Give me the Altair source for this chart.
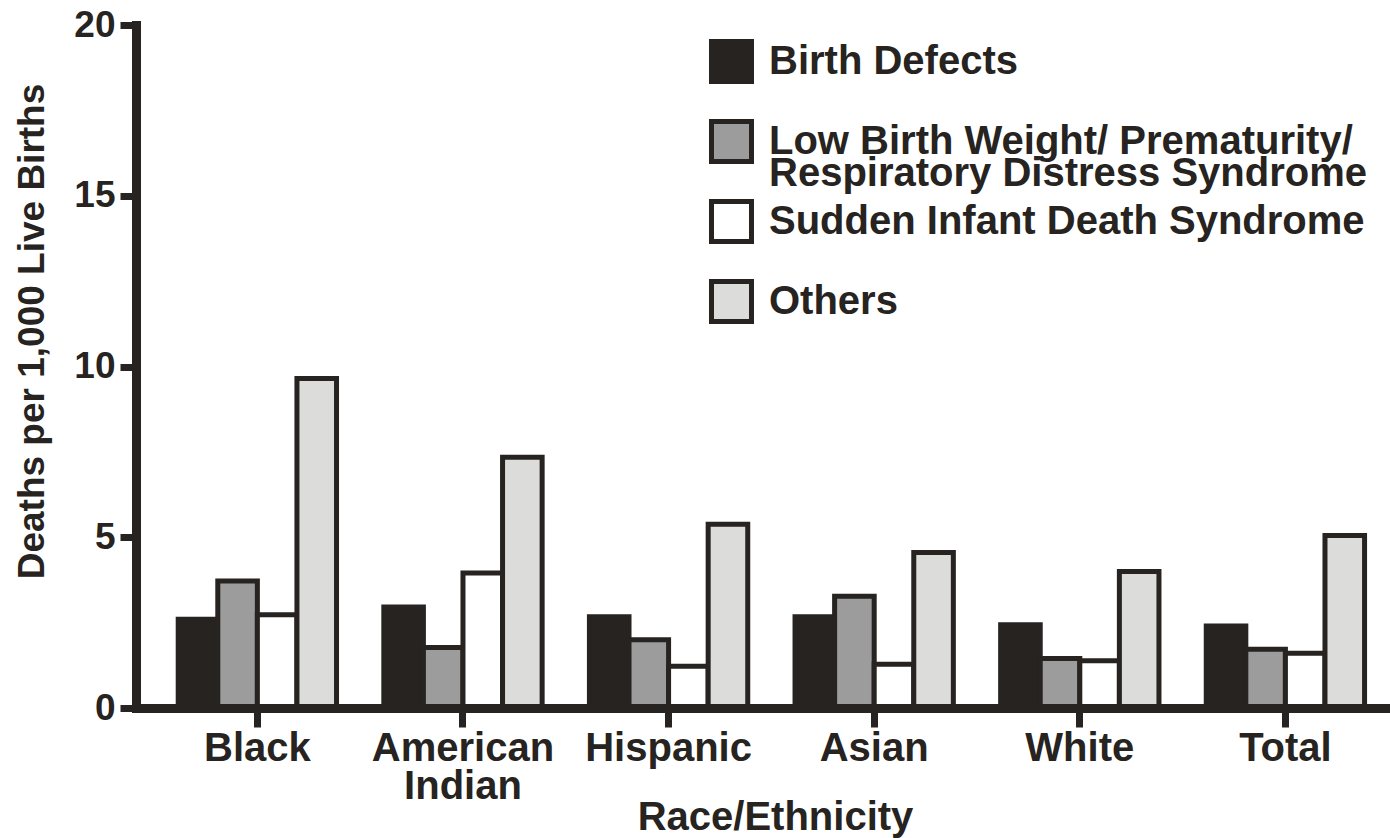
import altair as alt
import pandas as pd

categories = ["Black", "American Indian", "Hispanic", "Asian", "White", "Total"]
causes = [
    "Birth Defects",
    "Low Birth Weight/ Prematurity/ Respiratory Distress Syndrome",
    "Sudden Infant Death Syndrome",
    "Others",
]
birth_defects = [2.60, 2.96, 2.67, 2.67, 2.44, 2.40]
low_birth_weight = [3.72, 1.77, 2.00, 3.27, 1.45, 1.72]
sids = [2.73, 3.95, 1.22, 1.28, 1.38, 1.60]
others = [9.65, 7.34, 5.38, 4.55, 4.00, 5.05]
fills = ["#262320", "#9c9c9c", "#ffffff", "#dcdcda"]
y_ticks = [0, 5, 10, 15, 20]

series = [birth_defects, low_birth_weight, sids, others]
rows = []
for cause, vals in zip(causes, series):
    for cat, v in zip(categories, vals):
        rows.append({"race": cat, "cause": cause, "value": v})
df = pd.DataFrame(rows)

DARK = "#262320"
FONT = "Liberation Sans"

x_label_expr = "datum.label == 'American Indian' ? ['American', 'Indian'] : datum.label"
legend_label_expr = (
    "datum.label == 'Low Birth Weight/ Prematurity/ Respiratory Distress Syndrome' ? "
    "['Low Birth Weight/ Prematurity/', 'Respiratory Distress Syndrome'] : datum.label"
)

chart = (
    alt.Chart(df)
    .mark_bar(stroke=DARK, strokeWidth=5, strokeJoin="miter")
    .encode(
        x=alt.X(
            "race:N",
            sort=categories,
            scale=alt.Scale(paddingInner=0.23, paddingOuter=0.1645, align=0.624),
            axis=alt.Axis(
                title="Race/Ethnicity",
                labelAngle=0,
                labelExpr=x_label_expr,
                labelFont=FONT,
                labelFontSize=40,
                labelFontWeight="bold",
                labelColor=DARK,
                labelPadding=1,
                labelBaseline="top",
                labelLineHeight=38,
                labelLimit=400,
                labelOverlap=False,
                labelBound=False,
                domainColor=DARK,
                domainWidth=9,
                domainCap="square",
                tickColor=DARK,
                tickSize=19,
                tickWidth=7,
                titleFont=FONT,
                titleFontSize=40,
                titleFontWeight="bold",
                titleColor=DARK,
                titleX=639,
                titleY=121,
                titleBaseline="alphabetic",
                titleAlign="center",
                grid=False,
                zindex=1,
            ),
        ),
        xOffset=alt.XOffset(
            "cause:N", sort=causes, scale=alt.Scale(paddingInner=0, paddingOuter=0)
        ),
        y=alt.Y(
            "value:Q",
            scale=alt.Scale(domain=[0, 20], nice=False),
            axis=alt.Axis(
                title="Deaths per 1,000 Live Births",
                values=y_ticks,
                labelFont=FONT,
                labelFontSize=37,
                labelFontWeight="bold",
                labelColor=DARK,
                labelPadding=5,
                domainColor=DARK,
                domainWidth=9,
                domainCap="square",
                tickColor=DARK,
                tickSize=16,
                tickWidth=7,
                titleFont=FONT,
                titleFontSize=37,
                titleFontWeight="bold",
                titleColor=DARK,
                titleAngle=270,
                titleX=-93,
                titleY=306,
                titleBaseline="alphabetic",
                titleAlign="center",
                grid=False,
                zindex=1,
            ),
        ),
        fill=alt.Fill(
            "cause:N",
            sort=causes,
            scale=alt.Scale(domain=causes, range=fills),
            legend=alt.Legend(
                title=None,
                orient="none",
                legendX=573,
                legendY=14,
                padding=0,
                symbolType="square",
                symbolSize=1600,
                symbolStrokeWidth=5,
                symbolStrokeColor=DARK,
                symbolOpacity=1,
                labelExpr=legend_label_expr,
                labelFont=FONT,
                labelFontSize=40,
                labelFontWeight="bold",
                labelColor=DARK,
                labelBaseline="middle",
                labelOffset=15,
                labelLimit=0,
                rowPadding=-3,
                gridAlign="all",
            ),
        ),
    )
    .properties(
        width=1254,
        height=683,
        autosize=alt.AutoSizeParams(type="none"),
        padding={"left": 136, "top": 25, "right": 0, "bottom": 130},
    )
    .configure(style={"guide-label": {"lineHeight": 32}})
    .configure_view(strokeOpacity=0)
)

chart.save("out.html", embed_options={"renderer": "svg", "actions": False})
